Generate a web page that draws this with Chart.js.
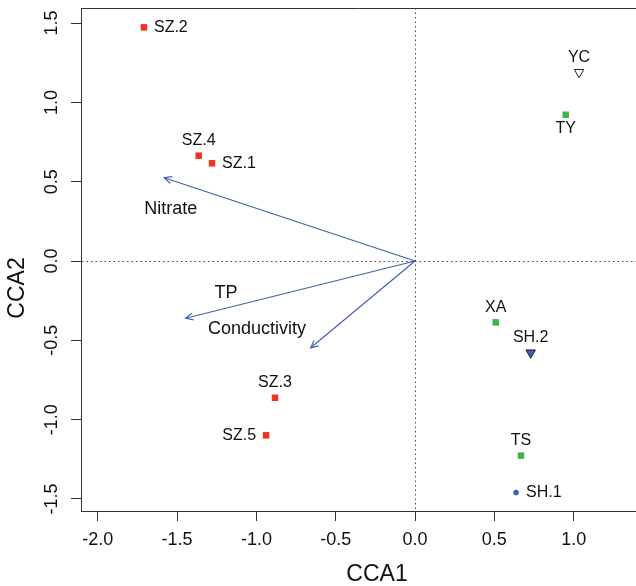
<!DOCTYPE html>
<html>
<head>
<meta charset="utf-8">
<script src="https://cdn.jsdelivr.net/npm/chart.js@4.4.1/dist/chart.umd.min.js"></script>
<style>
  html, body { margin: 0; padding: 0; background: #fff; }
  #wrap { width: 636px; height: 586px; }
</style>
</head>
<body>
<div id="wrap"><canvas id="cca"></canvas></div>
<script>
// site scores (CCA1, CCA2)
const szNames = ['SZ.2', 'SZ.4', 'SZ.1', 'SZ.3', 'SZ.5'];
const szX = [-1.709, -1.364, -1.280, -0.883, -0.939];
const szY = [1.473, 0.664, 0.616, -0.862, -1.099];
const szPos = ['right', 'above', 'right', 'above', 'left'];

const greenNames = ['TY', 'XA', 'TS'];
const greenX = [0.950, 0.509, 0.668];
const greenY = [0.922, -0.387, -1.227];
const greenPos = ['below', 'above', 'above'];

const ycNames = ['YC'];
const ycX = [1.034];
const ycY = [1.190];
const ycPos = ['above'];

const sh2Names = ['SH.2'];
const sh2X = [0.729];
const sh2Y = [-0.578];
const sh2Pos = ['above'];

const sh1Names = ['SH.1'];
const sh1X = [0.637];
const sh1Y = [-1.459];
const sh1Pos = ['right'];

// environmental vectors
const envNames = ['Nitrate', 'TP', 'Conductivity'];
const envX = [-1.581, -1.446, -0.658];
const envY = [0.525, -0.361, -0.547];
const envLabelX = [-1.540, -1.192, -0.996];
const envLabelY = [0.328, -0.204, -0.431];

// axes
const xTicks = [-2.0, -1.5, -1.0, -0.5, 0.0, 0.5, 1.0];
const yTicks = [-1.5, -1.0, -0.5, 0.0, 0.5, 1.0, 1.5];
const xMin = -2.106, xMax = 1.393;
const yMin = -1.576, yMax = 1.595;

const FONT = 'Liberation Sans, Arial, Helvetica, sans-serif';
const INK = '#111';
const AXIS = '#333';
const BLUE = '#4560b0';

const pts = (xs, ys) => xs.map((x, i) => ({ x: x, y: ys[i] }));

const arrowSets = envNames.map((n, i) => ({
  type: 'line',
  label: n,
  isArrow: true,
  data: [{ x: 0, y: 0 }, { x: envX[i], y: envY[i] }],
  borderColor: BLUE,
  borderWidth: 1.2,
  pointRadius: 0,
  fill: false,
}));

const decor = {
  id: 'decor',
  afterDatasetsDraw(chart) {
    const { ctx, chartArea: a, scales } = chart;
    ctx.save();
    // top frame line
    ctx.strokeStyle = AXIS;
    ctx.lineWidth = 1;
    ctx.beginPath();
    ctx.moveTo(a.left, a.top + 0.5);
    ctx.lineTo(a.right, a.top + 0.5);
    ctx.stroke();

    // arrow heads
    chart.data.datasets.forEach((ds, i) => {
      if (!ds.isArrow) return;
      const m = chart.getDatasetMeta(i).data;
      const o = m[0], t = m[1];
      const ang = Math.atan2(t.y - o.y, t.x - o.x);
      const len = 8, spread = Math.PI / 7;
      ctx.strokeStyle = BLUE;
      ctx.lineWidth = 1.2;
      ctx.beginPath();
      ctx.moveTo(t.x - len * Math.cos(ang - spread), t.y - len * Math.sin(ang - spread));
      ctx.lineTo(t.x, t.y);
      ctx.lineTo(t.x - len * Math.cos(ang + spread), t.y - len * Math.sin(ang + spread));
      ctx.stroke();
    });

    // site labels
    ctx.fillStyle = INK;
    ctx.font = '16px ' + FONT;
    chart.data.datasets.forEach((ds, i) => {
      if (!ds.names) return;
      chart.getDatasetMeta(i).data.forEach((el, j) => {
        const p = ds.pos[j];
        ctx.textBaseline = 'middle';
        if (p === 'right') { ctx.textAlign = 'left'; ctx.fillText(ds.names[j], el.x + 10, el.y); }
        else if (p === 'left') { ctx.textAlign = 'right'; ctx.fillText(ds.names[j], el.x - 10, el.y); }
        else if (p === 'above') { ctx.textAlign = 'center'; ctx.fillText(ds.names[j], el.x, el.y - 15); }
        else { ctx.textAlign = 'center'; ctx.fillText(ds.names[j], el.x, el.y + 14); }
      });
    });

    // vector labels
    ctx.font = '18px ' + FONT;
    ctx.textAlign = 'center';
    ctx.textBaseline = 'middle';
    envNames.forEach((n, i) => {
      ctx.fillText(n, scales.x.getPixelForValue(envLabelX[i]), scales.y.getPixelForValue(envLabelY[i]));
    });

    // rotated y tick labels
    yTicks.forEach(v => {
      ctx.save();
      ctx.translate(a.left - 29, scales.y.getPixelForValue(v));
      ctx.rotate(-Math.PI / 2);
      ctx.fillText(v.toFixed(1), 0, 0);
      ctx.restore();
    });

    // axis titles
    ctx.font = '23px ' + FONT;
    ctx.fillText('CCA1', a.left + 296, a.bottom + 64);
    ctx.save();
    ctx.translate(18, a.top + 280);
    ctx.rotate(-Math.PI / 2);
    ctx.fillText('CCA2', 0, 0);
    ctx.restore();
    ctx.restore();
  }
};

const zeroGrid = c => (c.tick && c.tick.value === 0 ? '#444' : 'rgba(0,0,0,0)');

new Chart(document.getElementById('cca'), {
  type: 'scatter',
  data: {
    datasets: [
      ...arrowSets,
      {
        label: 'SZ', names: szNames, pos: szPos, data: pts(szX, szY),
        pointStyle: 'rect', pointRadius: 4.6, backgroundColor: '#ee3224', borderWidth: 0,
      },
      {
        label: 'green', names: greenNames, pos: greenPos, data: pts(greenX, greenY),
        pointStyle: 'rect', pointRadius: 4.6, backgroundColor: '#3cb54a', borderWidth: 0,
      },
      {
        label: 'YC', names: ycNames, pos: ycPos, data: pts(ycX, ycY),
        pointStyle: 'triangle', rotation: 180, pointRadius: 5.5,
        backgroundColor: 'rgba(0,0,0,0)', borderColor: '#222', borderWidth: 1,
      },
      {
        label: 'SH.2', names: sh2Names, pos: sh2Pos, data: pts(sh2X, sh2Y),
        pointStyle: 'triangle', rotation: 180, pointRadius: 5.5,
        backgroundColor: '#3f5fb4', borderColor: '#222', borderWidth: 1,
      },
      {
        label: 'SH.1', names: sh1Names, pos: sh1Pos, data: pts(sh1X, sh1Y),
        pointStyle: 'circle', pointRadius: 2.8, backgroundColor: '#3f5fb4', borderWidth: 0,
      },
    ],
  },
  options: {
    responsive: true,
    maintainAspectRatio: false,
    animation: false,
    layout: { autoPadding: false, padding: { top: 8, right: 0, left: 0, bottom: 0 } },
    plugins: { legend: { display: false }, tooltip: { enabled: false } },
    scales: {
      x: {
        type: 'linear',
        min: xMin,
        max: xMax,
        afterBuildTicks: s => { s.ticks = xTicks.map(v => ({ value: v })); },
        afterFit: s => { s.height = 75; s.paddingLeft = 0; s.paddingRight = 0; },
        grid: { drawOnChartArea: true, color: zeroGrid, tickColor: AXIS, tickLength: 10, lineWidth: 1 },
        border: { color: AXIS, width: 1, dash: [1.5, 3] },
        ticks: {
          color: INK, font: { family: FONT, size: 18 }, padding: 8,
          maxRotation: 0, autoSkip: false, callback: v => Number(v).toFixed(1),
        },
      },
      y: {
        type: 'linear',
        min: yMin,
        max: yMax,
        afterBuildTicks: s => { s.ticks = yTicks.map(v => ({ value: v })); },
        afterFit: s => { s.width = 81; s.paddingTop = 0; s.paddingBottom = 0; },
        grid: { drawOnChartArea: true, color: zeroGrid, tickColor: AXIS, tickLength: 10, lineWidth: 1 },
        border: { color: AXIS, width: 1, dash: [1.5, 3] },
        ticks: { display: false },
      },
    },
  },
  plugins: [decor],
});
</script>
</body>
</html>
